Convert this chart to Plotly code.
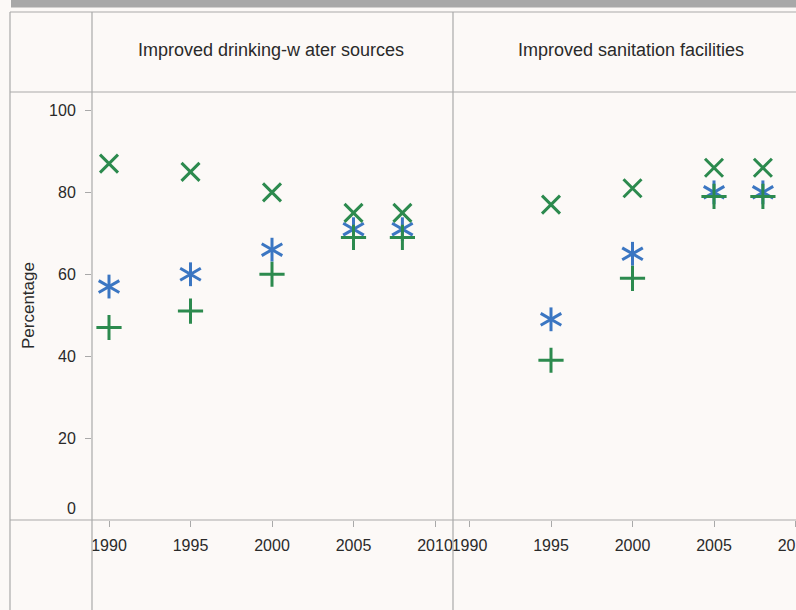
import plotly.graph_objects as go

# ---- data ----
panels = ["Improved drinking-w ater sources", "Improved sanitation facilities"]
years = [1990, 1995, 2000, 2005, 2008]
# drinking-water
water_x = [87, 85, 80, 75, 75]      # green x
water_star = [57, 60, 66, 71, 71]   # blue asterisk
water_plus = [47, 51, 60, 69, 69]   # green plus
# sanitation
san_x = [None, 77, 81, 86, 86]
san_star = [None, 49, 65, 80, 80]
san_plus = [None, 39, 59, 79, 79]
y_ticks = [20, 40, 60, 80, 100]
x_ticks = [1990, 1995, 2000, 2005, 2010]
y_title = "Percentage"

GREEN = "#2c8a4e"
BLUE = "#3b76c2"
BG = "#fcf9f7"
LINE = "#a9a9a9"
TXT = "#2a2a2a"
FONT = "Liberation Sans, Arial, sans-serif"

W, H = 796, 610
def px(x):
    return x / W
def py(y):
    return 1 - y / H

fig = go.Figure()

MS = 18

def add_series(xa, ya, yx, ystar, yplus):
    # asterisk (6 spokes): vertical + two rotated lines
    for sym, ang in [("line-ns", 0), ("line-ew", 30), ("line-ew", -30)]:
        fig.add_trace(go.Scatter(
            x=years, y=ystar, mode="markers", xaxis=xa, yaxis=ya, showlegend=False,
            marker=dict(symbol=sym, angle=ang, size=MS - 1, color=BLUE,
                        line=dict(width=3, color=BLUE)), hoverinfo="skip"))
    fig.add_trace(go.Scatter(
        x=years, y=yplus, mode="markers", xaxis=xa, yaxis=ya, showlegend=False,
        marker=dict(symbol="cross-thin", size=MS, color=GREEN,
                    line=dict(width=3, color=GREEN))))
    fig.add_trace(go.Scatter(
        x=years, y=yx, mode="markers", xaxis=xa, yaxis=ya, showlegend=False,
        marker=dict(symbol="x-thin", size=MS, color=GREEN,
                    line=dict(width=3, color=GREEN))))

add_series("x", "y", water_x, water_star, water_plus)
add_series("x2", "y2", san_x, san_star, san_plus)

PX_PER_YR = 16.3
left_start = 1990 - 17 / PX_PER_YR
left_end = left_start + (453 - 92) / PX_PER_YR
right_start = 1990 - 16.5 / PX_PER_YR
right_end = right_start + (796 - 453) / PX_PER_YR

ydom = [py(520), py(92)]
yr = [0, 104.5]

xcommon = dict(tickvals=x_ticks, ticks="outside", ticklen=6, tickcolor=LINE,
               tickfont=dict(size=16, color=TXT, family=FONT), showgrid=False,
               zeroline=False, showline=False, ticklabelstandoff=5, fixedrange=True,
               ticklabeloverflow="allow", automargin=False)
fig.update_layout(
    width=W, height=H, autosize=False,
    margin=dict(l=0, r=0, t=0, b=0),
    paper_bgcolor=BG, plot_bgcolor=BG,
    font=dict(family=FONT, color=TXT),
    xaxis=dict(domain=[px(92), px(453)], range=[left_start, left_end], anchor="y", **xcommon),
    xaxis2=dict(domain=[px(453), 1], range=[right_start, right_end], anchor="y2", **xcommon),
    yaxis=dict(domain=ydom, range=yr, tickvals=y_ticks, ticks="outside", ticklen=6,
               tickcolor=LINE, tickfont=dict(size=16, color=TXT, family=FONT),
               showgrid=False, zeroline=False, showline=False, ticklabelstandoff=6,
               anchor="x", automargin=False),
    yaxis2=dict(domain=ydom, range=yr, showticklabels=False, showgrid=False,
                zeroline=False, showline=False, anchor="x2", matches="y", automargin=False),
)

shapes = []
def ln(x0, y0, x1, y1):
    shapes.append(dict(type="line", xref="paper", yref="paper",
                       x0=px(x0), y0=py(y0), x1=px(x1), y1=py(y1),
                       line=dict(color=LINE, width=1.2)))
# top grey bar
shapes.append(dict(type="rect", xref="paper", yref="paper",
                   x0=px(11), x1=1, y0=py(7.5), y1=1,
                   fillcolor="#a8a8a8", line=dict(width=0)))
ln(10, 12, 10, 610)
ln(10, 12, 796, 12)
ln(92, 12, 92, 610)
ln(453, 12, 453, 610)
ln(10, 92, 796, 92)
ln(10, 520, 796, 520)
fig.update_layout(shapes=shapes)

ann = []
ann.append(dict(text=panels[0], x=px(271), y=py(50), xref="paper", yref="paper",
                showarrow=False, font=dict(size=18, color=TXT, family=FONT),
                xanchor="center", yanchor="middle"))
ann.append(dict(text=panels[1], x=px(631), y=py(50), xref="paper", yref="paper",
                showarrow=False, font=dict(size=18, color=TXT, family=FONT),
                xanchor="center", yanchor="middle"))
ann.append(dict(text=y_title, x=px(28), y=py(306), xref="paper", yref="paper",
                showarrow=False, textangle=-90, font=dict(size=17, color=TXT, family=FONT),
                xanchor="center", yanchor="middle"))
ann.append(dict(text="0", x=px(78), y=py(508), xref="paper", yref="paper",
                showarrow=False, font=dict(size=16, color=TXT, family=FONT),
                xanchor="right", yanchor="middle"))
fig.update_layout(annotations=ann)

post = (
    "document.documentElement.style.overflow='hidden';"
    "document.body.style.margin='0';"
    "document.body.style.overflow='hidden';"
    "document.body.style.background='%s';"
    "document.querySelectorAll('.plotly-graph-div, .plot-container, .svg-container')"
    ".forEach(function(e){e.style.overflow='hidden';});"
) % BG

fig.write_html("out.html", config={"displayModeBar": False, "responsive": False},
               post_script=post)
